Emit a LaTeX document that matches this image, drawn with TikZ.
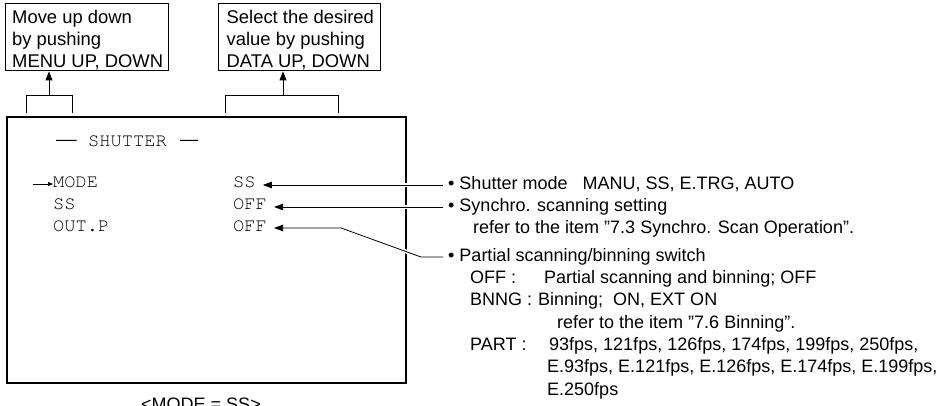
\documentclass[tikz,border=0pt]{standalone}
\usepackage{fontspec}
\setmainfont{Liberation Sans}
\newfontfamily\monof{TeX Gyre Cursor}
\usetikzlibrary{arrows.meta}
\begin{document}
\begin{tikzpicture}[x=1pt,y=-1pt,
  sans/.style={font=\fontsize{18}{22.2}\selectfont},
  boxsans/.style={font=\fontsize{18.4}{22.2}\selectfont},
  lbl/.style={sans, inner sep=0pt, anchor=west, text height=13pt, text depth=4pt},
  mono/.style={font=\monof\fontsize{18.7}{22}\selectfont, inner sep=0pt, anchor=west, text height=11pt, text depth=3pt},
  val/.style={mono, inner xsep=3pt},
  frame/.style={draw, line width=0.9pt, anchor=north west, inner sep=0pt},
  boxtext/.style={boxsans, align=left, anchor=north west, inner sep=0pt},
  arr/.style={line width=0.8pt, -{Triangle[length=9pt,width=6.5pt]}, shorten >=4pt},
  uparr/.style={line width=0.8pt, -{Triangle[length=9pt,width=7pt]}},
  halo/.style={preaction={draw=white, line width=4pt, -}},
]
\useasboundingbox (0,0) rectangle (938,406);
\fill[white] (0,0) rectangle (938,406);

% top boxes
\node[frame, minimum width=163pt, minimum height=67.5pt] (b1) at (4.5,3) {};
\node[boxtext] (t1) at (12,9.8) {Move up down\\by pushing\\MENU UP, DOWN};
\node[frame, minimum width=162pt, minimum height=67.5pt] (b2) at (218,3) {};
\node[boxtext] (t2) at (226.5,9.5) {Select the desired\\value by pushing\\DATA UP, DOWN};

% brackets
\coordinate (k1) at (49,95);
\coordinate (k2) at (283,95);
\draw[line width=0.8pt] (26,113) -- (26,95) -- (72,95) -- (72,113);
\draw[line width=0.8pt] (225,113) -- (225,95) -- (338,95) -- (338,113);
\draw[uparr] (k1) -- (b1.south -| k1);
\draw[uparr] (k2) -- (b2.south -| k2);

% main screen box
\draw[line width=1.4pt] (7,117) rectangle (406,383);
\node[sans, inner sep=0pt, anchor=west, xscale=1.15] (d1) at (56,143) {—};
\node[mono] (title) at (88,143) {SHUTTER};
\node[sans, inner sep=0pt, anchor=west, xscale=1.0] (d2) at (180,143) {—};
\node[mono] (m1) at (53,184) {MODE};
\node[mono] (m2) at (53,206) {SS};
\node[mono] (m3) at (53,228) {OUT.P};
\coordinate (pt) at (33,184);
\draw[line width=0.6pt, -{Triangle[length=5pt,width=4pt]}] (pt) -- (m1.west);
\node[val] (v1) at (230,184) {SS};
\node[val] (v2) at (230,206) {OFF};
\node[val] (v3) at (230,228) {OFF};

% right labels
\node[lbl] (l1) at (443,185) {\ • Shutter mode\ \ \ MANU, SS, E.TRG, AUTO};
\node[lbl] (l2) at (443,207) {\ • Synchro. scanning setting};
\node[lbl] (s2) at (473,229) {refer to the item "7.3 Synchro. Scan Operation".};
\node[lbl] (l3) at (443,257) {\ • Partial scanning/binning switch};
\node[lbl] (o1) at (470,279) {OFF :};
\node[lbl] (o1t) at (544,279) {Partial scanning and binning; OFF};
\node[lbl] (o2) at (470,301.5) {BNNG :};
\node[lbl] (o2t) at (538,301.5) {Binning;\ \ ON, EXT ON};
\node[lbl] (o3t) at (557,324) {refer to the item "7.6 Binning".};
\node[lbl] (o4) at (470,346) {PART :};
\node[lbl] (o4t) at (549,346) {93fps, 121fps, 126fps, 174fps, 199fps, 250fps,};
\node[lbl] (o5t) at (547,368.5) {E.93fps, E.121fps, E.126fps, E.174fps, E.199fps,};
\node[lbl] (o6t) at (547,391) {E.250fps};

% connectors
\draw[arr, halo] (l1.west) -- (v1.east |- l1.west);
\draw[arr, halo] (l2.west) -- (v2.east |- l2.west);
\draw[arr, halo] (l3.west) -- ++(-22,0) -- ([xshift=71pt]v3.east) -- (v3.east);

% caption
\node[sans, anchor=base] (cap) at (201,410.5) {<MODE = SS>};
\end{tikzpicture}
\end{document}
